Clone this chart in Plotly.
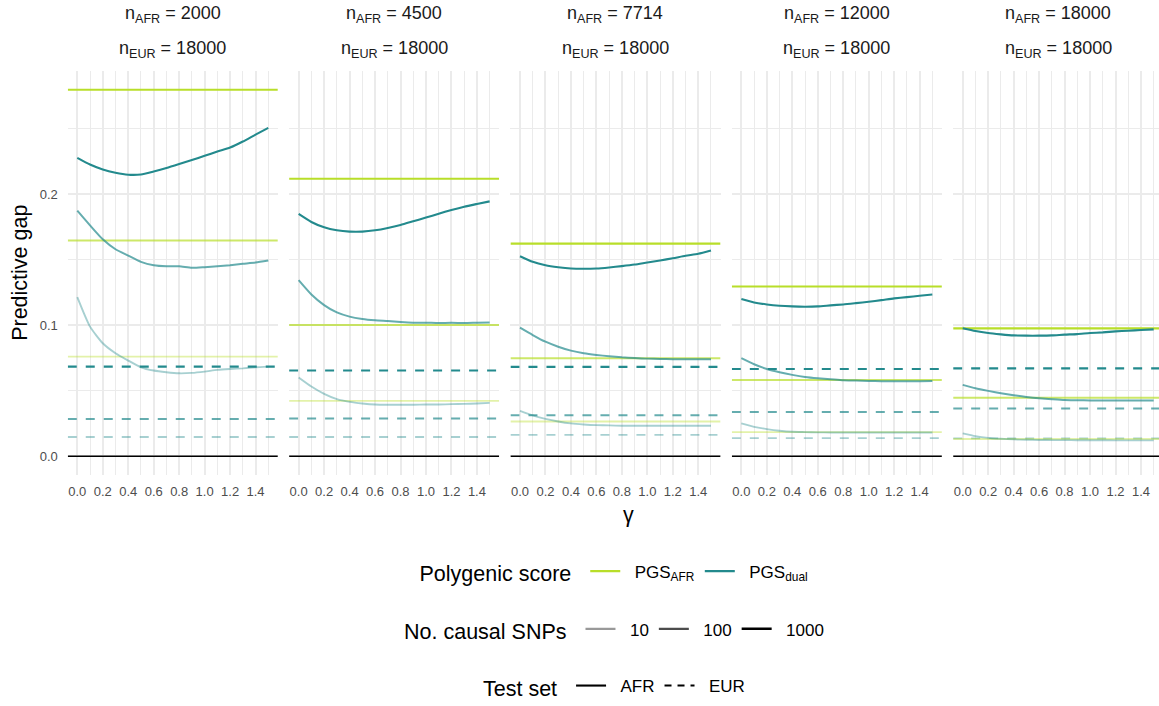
import plotly.graph_objects as go

# ---------------- data ----------------
gamma = [0.0, 0.1, 0.2, 0.3, 0.4, 0.5, 0.6, 0.7, 0.8, 0.9, 1.0, 1.1, 1.2, 1.3, 1.4, 1.5]
n_afr = [2000, 4500, 7714, 12000, 18000]
n_eur = [18000, 18000, 18000, 18000, 18000]
snp_levels = ["10", "100", "1000"]
x_tick_vals = [0.0, 0.2, 0.4, 0.6, 0.8, 1.0, 1.2, 1.4]
x_tick_labels = ["0.0", "0.2", "0.4", "0.6", "0.8", "1.0", "1.2", "1.4"]
x_minor_vals = [0.1, 0.3, 0.5, 0.7, 0.9, 1.1, 1.3, 1.5]
y_tick_vals = [0.0, 0.1, 0.2]
y_tick_labels = ["0.0", "0.1", "0.2"]
y_minor_vals = [0.05, 0.15, 0.25]

# PGS_AFR, AFR test set (constant in gamma), per panel
pgs_afr_afr_10 = [0.0760, 0.0423, 0.0266, 0.0185, 0.0132]
pgs_afr_afr_100 = [0.1645, 0.1001, 0.0748, 0.0583, 0.0446]
pgs_afr_afr_1000 = [0.2795, 0.2116, 0.1622, 0.1295, 0.0976]

# PGS_dual, EUR test set (constant in gamma), per panel
pgs_dual_eur_10 = [0.0147, 0.0147, 0.0164, 0.0139, 0.0137]
pgs_dual_eur_100 = [0.0284, 0.0289, 0.0314, 0.0339, 0.0365]
pgs_dual_eur_1000 = [0.0684, 0.0654, 0.0682, 0.0666, 0.0671]

# PGS_dual, AFR test set, vs gamma, per panel
pgs_dual_afr_10 = [
    [0.1214, 0.0989, 0.0862, 0.0786, 0.0730, 0.0679, 0.0654, 0.0641, 0.0633, 0.0636, 0.0646, 0.0659, 0.0666, 0.0671, 0.0679, 0.0684],
    [0.0601, 0.0532, 0.0476, 0.0436, 0.0415, 0.0403, 0.0395, 0.0393, 0.0393, 0.0393, 0.0395, 0.0395, 0.0398, 0.0400, 0.0403, 0.0408],
    [0.0347, 0.0312, 0.0286, 0.0266, 0.0251, 0.0243, 0.0238, 0.0236, 0.0233, 0.0233, 0.0233, 0.0233, 0.0233, 0.0233, 0.0233, 0.0233],
    [0.0251, 0.0225, 0.0208, 0.0195, 0.0187, 0.0185, 0.0183, 0.0182, 0.0182, 0.0182, 0.0182, 0.0182, 0.0182, 0.0182, 0.0182, 0.0182],
    [0.0175, 0.0154, 0.0141, 0.0134, 0.0129, 0.0126, 0.0125, 0.0124, 0.0124, 0.0123, 0.0123, 0.0123, 0.0122, 0.0122, 0.0122, 0.0122],
]
pgs_dual_afr_100 = [
    [0.1873, 0.1761, 0.1655, 0.1579, 0.1531, 0.1483, 0.1457, 0.1449, 0.1449, 0.1437, 0.1442, 0.1449, 0.1457, 0.1468, 0.1478, 0.1493],
    [0.1343, 0.1234, 0.1153, 0.1097, 0.1065, 0.1047, 0.1037, 0.1031, 0.1024, 0.1019, 0.1019, 0.1016, 0.1019, 0.1016, 0.1019, 0.1021],
    [0.0981, 0.0925, 0.0874, 0.0836, 0.0806, 0.0786, 0.0773, 0.0763, 0.0755, 0.0750, 0.0745, 0.0743, 0.0740, 0.0740, 0.0740, 0.0740],
    [0.0748, 0.0702, 0.0666, 0.0641, 0.0621, 0.0605, 0.0595, 0.0588, 0.0580, 0.0578, 0.0575, 0.0573, 0.0573, 0.0573, 0.0573, 0.0575],
    [0.0545, 0.0519, 0.0499, 0.0481, 0.0466, 0.0453, 0.0443, 0.0436, 0.0430, 0.0428, 0.0426, 0.0425, 0.0425, 0.0425, 0.0425, 0.0425],
]
pgs_dual_afr_1000 = [
    [0.2276, 0.2225, 0.2187, 0.2162, 0.2147, 0.2149, 0.2172, 0.2198, 0.2228, 0.2259, 0.2291, 0.2324, 0.2354, 0.2400, 0.2453, 0.2504],
    [0.1848, 0.1787, 0.1746, 0.1723, 0.1713, 0.1713, 0.1723, 0.1741, 0.1764, 0.1792, 0.1820, 0.1850, 0.1878, 0.1903, 0.1924, 0.1944],
    [0.1526, 0.1483, 0.1457, 0.1442, 0.1432, 0.1430, 0.1432, 0.1440, 0.1450, 0.1462, 0.1478, 0.1493, 0.1510, 0.1529, 0.1544, 0.1569],
    [0.1199, 0.1173, 0.1158, 0.1148, 0.1143, 0.1141, 0.1143, 0.1151, 0.1158, 0.1168, 0.1179, 0.1191, 0.1204, 0.1214, 0.1224, 0.1234],
    [0.0976, 0.0955, 0.0940, 0.0930, 0.0922, 0.0920, 0.0920, 0.0922, 0.0928, 0.0932, 0.0940, 0.0945, 0.0953, 0.0958, 0.0963, 0.0968],
]

# ---------------- style ----------------
W, H = 1159, 706
COL_AFR = (184, 222, 41)
COL_DUAL = (35, 138, 141)
ALPHA = {"10": 0.4, "100": 0.7, "1000": 1.0}
LW = {"10": 1.9, "100": 2.0, "1000": 2.1}
FONT = "Liberation Sans, Arial, sans-serif"
GRID = "#EBEBEB"
PAD = "\u00a0\u00a0"


def rgba(c, a):
    return "rgba(%d,%d,%d,%.3f)" % (c[0], c[1], c[2], a)


# panel geometry (pixels)
px_per_unit = 127.33
x_lo = -0.075
panel_left0 = 67.75
panel_step = 221.35
panel_w = 1.65 * px_per_unit
y_top_px, y_bot_px = 71.7, 476.7

all_vals = (pgs_afr_afr_10 + pgs_afr_afr_100 + pgs_afr_afr_1000 + pgs_dual_eur_10 + pgs_dual_eur_100
            + pgs_dual_eur_1000 + [v for p in pgs_dual_afr_10 + pgs_dual_afr_100 + pgs_dual_afr_1000 for v in p] + [0.0])
y_max = max(all_vals)
y_min = min(all_vals)
span = y_max - y_min
y_range = [y_min - 0.05 * span, y_max + 0.05 * span]

fig = go.Figure()

afr_lists = {"10": pgs_afr_afr_10, "100": pgs_afr_afr_100, "1000": pgs_afr_afr_1000}
eur_lists = {"10": pgs_dual_eur_10, "100": pgs_dual_eur_100, "1000": pgs_dual_eur_1000}
dual_lists = {"10": pgs_dual_afr_10, "100": pgs_dual_afr_100, "1000": pgs_dual_afr_1000}

layout_axes = {}
annotations = []
for i in range(5):
    k = "" if i == 0 else str(i + 1)
    xa, ya = "x" + k, "y" + k
    left = panel_left0 + i * panel_step
    right = min(left + panel_w, W)
    x_range = [x_lo, x_lo + (right - left) / px_per_unit]

    # zero line
    fig.add_trace(go.Scatter(x=x_range, y=[0.0, 0.0], mode="lines", xaxis=xa, yaxis=ya,
                             line=dict(color="black", width=1.5), showlegend=False, hoverinfo="skip"))
    for s in snp_levels:
        a = ALPHA[s]
        # PGS_dual EUR (dashed, constant)
        v = eur_lists[s][i]
        fig.add_trace(go.Scatter(x=x_range, y=[v, v], mode="lines", xaxis=xa, yaxis=ya,
                                 line=dict(color=rgba(COL_DUAL, a), width=LW[s], dash="9px,9px"),
                                 showlegend=False, hoverinfo="skip"))
    for s in snp_levels:
        a = ALPHA[s]
        v = afr_lists[s][i]
        fig.add_trace(go.Scatter(x=x_range, y=[v, v], mode="lines", xaxis=xa, yaxis=ya,
                                 line=dict(color=rgba(COL_AFR, a), width=LW[s]),
                                 showlegend=False, hoverinfo="skip"))
    for s in snp_levels:
        a = ALPHA[s]
        fig.add_trace(go.Scatter(x=gamma, y=dual_lists[s][i], mode="lines", xaxis=xa, yaxis=ya,
                                 line=dict(color=rgba(COL_DUAL, a), width=LW[s], shape="spline", smoothing=0.6),
                                 showlegend=False, hoverinfo="skip"))

    layout_axes["xaxis" + k] = dict(
        domain=[left / W, right / W], range=x_range, anchor=ya,
        tickmode="array", tickvals=x_tick_vals, ticktext=x_tick_labels,
        showgrid=True, gridcolor=GRID, gridwidth=1.8, zeroline=False, showline=False,
        ticks="", ticklabelstandoff=7,
        tickfont=dict(family=FONT, size=13, color="#4D4D4D"),
        minor=dict(tickmode="array", tickvals=x_minor_vals, showgrid=True, gridcolor=GRID, gridwidth=0.9, ticks=""),
    )
    layout_axes["yaxis" + k] = dict(
        domain=[1 - y_bot_px / H, 1 - y_top_px / H], range=y_range, anchor=xa,
        tickmode="array", tickvals=y_tick_vals, ticktext=y_tick_labels,
        showgrid=True, gridcolor=GRID, gridwidth=1.8, zeroline=False, showline=False,
        ticks="", showticklabels=(i == 0), ticklabelstandoff=9,
        tickfont=dict(family=FONT, size=13, color="#4D4D4D"),
        minor=dict(tickmode="array", tickvals=y_minor_vals, showgrid=True, gridcolor=GRID, gridwidth=0.9, ticks=""),
    )
    cx = (left + left + panel_w) / 2 / W
    annotations.append(dict(x=cx, y=1 - 15 / H, xref="paper", yref="paper", showarrow=False,
                            xanchor="center", yanchor="middle",
                            text="n<sub>AFR</sub> = %d" % n_afr[i],
                            font=dict(family=FONT, size=18, color="#1A1A1A")))
    annotations.append(dict(x=cx, y=1 - 50 / H, xref="paper", yref="paper", showarrow=False,
                            xanchor="center", yanchor="middle",
                            text="n<sub>EUR</sub> = %d" % n_eur[i],
                            font=dict(family=FONT, size=18, color="#1A1A1A")))

annotations.append(dict(x=20 / W, y=1 - 274 / H, xref="paper", yref="paper", showarrow=False,
                        text="Predictive gap", textangle=-90, xanchor="center", yanchor="middle",
                        font=dict(family=FONT, size=21.5, color="black")))
annotations.append(dict(x=628 / W, y=1 - 517 / H, xref="paper", yref="paper", showarrow=False,
                        text="γ", xanchor="center", yanchor="middle",
                        font=dict(family=FONT, size=21.5, color="black")))

# ---------------- legends ----------------
fig.add_trace(go.Scatter(x=[None], y=[None], mode="lines", name=PAD + "PGS<sub>AFR</sub>",
                         line=dict(color=rgba(COL_AFR, 1), width=2.1), legend="legend"))
fig.add_trace(go.Scatter(x=[None], y=[None], mode="lines", name=PAD + "PGS<sub>dual</sub>",
                         line=dict(color=rgba(COL_DUAL, 1), width=2.1), legend="legend"))
for s in snp_levels:
    fig.add_trace(go.Scatter(x=[None], y=[None], mode="lines", name=PAD + s,
                             line=dict(color=rgba((0, 0, 0), ALPHA[s]), width=LW[s] + 0.4), legend="legend2"))
fig.add_trace(go.Scatter(x=[None], y=[None], mode="lines", name=PAD + "AFR",
                         line=dict(color="black", width=2.1), legend="legend3"))
fig.add_trace(go.Scatter(x=[None], y=[None], mode="lines", name=PAD + "EUR",
                         line=dict(color="black", width=2.1, dash="7px,6px"), legend="legend3"))

leg_common = dict(orientation="h", xanchor="center", yanchor="middle", x=615.5 / W,
                  bgcolor="rgba(0,0,0,0)", font=dict(family=FONT, size=17, color="black"),
                  itemclick=False, itemdoubleclick=False)
fig.update_layout(
    legend=dict(y=1 - 575 / H, title=dict(text="Polygenic score ", side="left",
                                          font=dict(family=FONT, size=21.5, color="black")), **leg_common),
    legend2=dict(y=1 - 633 / H, title=dict(text="No. causal SNPs ", side="left",
                                           font=dict(family=FONT, size=21.5, color="black")), **leg_common),
    legend3=dict(y=1 - 690 / H, title=dict(text="Test set ", side="left",
                                           font=dict(family=FONT, size=21.5, color="black")), **leg_common),
)

fig.update_layout(
    width=W, height=H, margin=dict(l=0, r=0, t=0, b=0),
    paper_bgcolor="white", plot_bgcolor="white",
    font=dict(family=FONT, color="black"),
    annotations=annotations, showlegend=True,
    **layout_axes,
)

fig.write_html("out.html")
